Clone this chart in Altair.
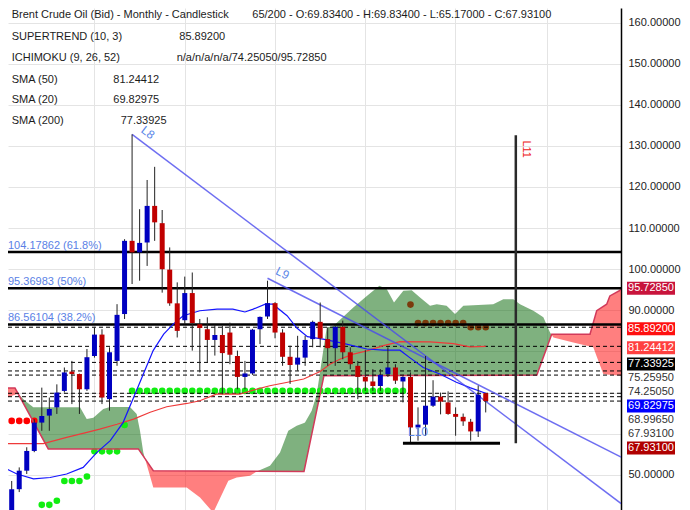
import altair as alt
import pandas as pd
import numpy as np

# ---------------- data ----------------
candle_idx = list(range(64))
opens = [39.5, 46.5, 51.0, 55.8, 62.7, 64.4, 66.4, 70.4, 75.1, 74.5,
         70.8, 78.9, 84.1, 68.4, 77.7, 89.1, 106.9, 104.1, 106.5, 115.4,
         111.2, 99.9, 91.7, 87.6, 94.2, 86.6, 85.4, 82.8, 84.0, 84.6,
         78.9, 73.8, 74.65, 85.4, 88.5, 91.75, 84.6, 78.7, 76.8, 78.5,
         83.0, 87.2, 83.0, 80.8, 86.0, 79.8, 76.5, 73.8, 72.7, 71.6,
         74.5, 76.1, 72.7, 73.8, 61.5, 62.2, 66.8, 69.0, 67.6, 64.8,
         64.1, 62.9, 60.55, 69.834]
highs = [48.5, 51.8, 56.7, 63.5, 71.2, 68.8, 72.0, 76.1, 77.7, 74.6,
         80.6, 85.8, 85.4, 81.0, 91.5, 107.3, 132.8, 114.6, 121.7, 124.9,
         114.4, 105.3, 96.8, 98.2, 99.2, 87.9, 88.3, 86.5, 86.2, 87.0,
         80.2, 77.7, 85.5, 88.5, 97.2, 92.0, 85.4, 81.4, 83.8, 83.8,
         87.5, 91.9, 85.8, 86.2, 87.5, 81.0, 77.7, 80.3, 75.7, 75.7,
         81.0, 76.9, 74.0, 74.9, 66.4, 78.9, 73.0, 70.0, 70.3, 66.4,
         64.9, 63.6, 71.7, 69.834]
lows = [38.5, 45.8, 50.2, 55.5, 60.7, 60.7, 64.8, 70.0, 67.2, 64.8,
        70.4, 78.5, 67.2, 65.6, 76.5, 87.9, 96.4, 97.2, 100.8, 106.9,
        94.3, 91.1, 83.4, 86.6, 80.2, 74.9, 77.3, 79.0, 69.6, 76.9,
        70.8, 70.8, 74.3, 81.8, 87.9, 83.2, 76.5, 72.1, 75.3, 76.5,
        81.0, 81.0, 76.5, 76.5, 78.1, 75.7, 68.4, 70.4, 70.4, 70.4,
        73.8, 72.1, 67.6, 57.9, 58.3, 59.5, 66.5, 64.7, 64.6, 59.5,
        61.9, 58.3, 59.2, 65.17]
closes = [46.5, 51.0, 55.8, 62.7, 64.3, 66.0, 70.0, 74.9, 74.5, 70.8,
          78.6, 84.1, 68.8, 79.8, 88.9, 106.9, 104.1, 106.4, 115.4, 111.4,
          100.0, 91.7, 85.0, 94.2, 86.9, 85.7, 82.8, 84.0, 79.6, 79.2,
          73.8, 74.65, 85.3, 88.4, 91.75, 84.6, 78.7, 76.7, 78.5, 82.8,
          87.2, 83.2, 80.8, 86.0, 79.8, 76.9, 73.8, 72.7, 71.6, 74.3,
          76.1, 72.9, 73.8, 61.5, 62.2, 66.8, 69.0, 67.8, 64.8, 64.1,
          63.0, 60.55, 69.5, 67.931]

# supertrend dots (index, value, side)
st_idx = list(range(64))
st_val = ([63.1] * 4 + [42.7, 42.7, 43.7] + [48.5, 48.5, 48.5, 49.6] + [55.7] * 4 + [62.1]
          + [70.4] * 37 + [91.4] + [86.9] * 7 + [85.892] * 3)
st_side = ["down"] * 4 + ["up"] * 49 + ["bear"] * 11

# SMA lines
sma20_idx = [-1.1, 0.7, 2.9, 5.1, 7.3, 9.5, 11.3, 13.1, 14.8, 16.2, 17.5, 18.8, 20.2, 21.5,
             22.8, 25.0, 27.3, 29.4, 31.0, 32.1, 33.7, 34.7, 36.6, 37.9, 39.3, 41.4, 44.5,
             47.2, 49.4, 51.6, 52.9, 54.7, 56.9, 59.1, 60.9, 63.0]
sma20_val = [51.8, 50.2, 49.0, 49.35, 50.2, 51.8, 55.4, 58.3, 62.7, 68.8, 74.5, 80.2, 84.2, 86.7,
             88.7, 89.9, 90.3, 90.3, 89.6, 90.3, 91.5, 91.5, 88.7, 85.7, 83.6, 83.0, 81.8,
             80.6, 80.3, 80.3, 78.5, 76.1, 74.5, 72.5, 71.2, 69.82975]
sma50_idx = [-1.1, 4.2, 7.3, 10.0, 11.7, 14.0, 16.2, 18.4, 20.6, 23.3, 25.0, 27.2, 30.3, 32.1,
             34.3, 36.5, 38.8, 41.0, 42.3, 43.6, 45.4, 47.2, 49.4, 51.6, 55.6, 58.7, 60.9, 63.0]
sma50_val = [57.6, 57.6, 59.1, 60.3, 61.1, 62.3, 63.55, 65.2, 66.55, 67.35, 68.0, 69.6, 69.6, 70.6,
             71.65, 72.45, 73.3, 75.1, 76.9, 78.1, 79.35, 80.15, 81.4, 82.4, 82.35, 81.9, 81.1, 81.24412]

# Ichimoku spans
spanA_idx = [-1.12, 0.84, 1.77, 2.87, 9.08, 9.97, 10.85, 12.17, 13.06, 15.72, 16.61, 17.05, 17.49,
             18.82, 23.26, 25.03, 26.79, 28.79, 29.9, 31.67, 32.56, 34.33, 35.66, 36.76, 37.88,
             38.98, 39.87, 40.54, 41.2, 41.87, 42.74, 45.4, 47.2, 48.86, 49.84, 50.81, 52.05,
             53.16, 54.27, 55.6, 56.49, 57.8, 58.92, 60.02, 64.0, 65.34, 66.67, 67.56, 69.33,
             70.66, 71.55, 72.0, 74.64, 77.3, 78.63, 81.0]
spanA_val = [68.5, 69.7, 68.0, 66.4, 66.4, 63.55, 63.9, 66.0, 66.5, 66.5, 64.8, 60.7, 55.4,
             46.9, 46.9, 44.5, 40.8, 48.55, 49.35, 49.75, 50.8, 52.2, 55.4, 60.7, 61.9,
             62.7, 65.6, 69.6, 77.7, 85.8, 86.2, 90.7, 93.5, 96.0, 95.2, 91.9, 94.75,
             94.9, 93.1, 91.1, 91.5, 91.1, 89.1, 91.1, 91.5, 92.7, 92.7, 91.5, 89.9,
             88.3, 84.6, 83.4, 82.2, 81.0, 74.5, 74.1]
spanB_idx = [-1.12, 0.44, 4.86, 16.83, 18.82, 38.85, 41.5, 69.8, 71.77, 76.86, 77.75, 79.08, 79.5, 81.0]
spanB_val = [71.1, 71.1, 56.3, 56.3, 50.98, 50.8, 74.1, 74.25, 84.2, 84.2, 89.9, 91.5, 93.5, 95.0]

# Fibonacci levels
fib_levels = [104.17862, 95.36983, 86.56104]
fib_labels = ["104.17862 (61.8%)", "95.36983 (50%)", "86.56104 (38.2%)"]

# dashed price lines
dash_levels = [85.892, 81.24412, 77.33925, 75.2595, 74.2505, 69.82975, 68.9965, 67.931]

# right side price tags
tag_values = [95.7285, 85.892, 81.24412, 77.33925, 75.2595, 74.2505, 69.82975, 68.9965, 67.931, 67.931]
tag_fill = ["#c8143c", "#ff1010", "#ff4040", "#000000", "", "", "#0000ff", "", "", "#b00000"]

# trend lines
trend_names = ["L8", "L8", "L9", "L9"]
trend_idx = [16, 81.0, 34, 81.0]
trend_val = [132.8, 43.0, 97.8, 54.3]
l10_span = [52, 64.9]
l10_level = 57.7
l11_idx = 67
l11_range = [57.7, 132.6]

header_left = ["Brent Crude Oil (Bid) - Monthly - Candlestick", "SUPERTREND (10, 3)",
               "ICHIMOKU (9, 26, 52)", "SMA (50)", "SMA (20)", "SMA (200)"]
header_right = ["65/200 - O:69.83400 - H:69.83400 - L:65.17000 - C:67.93100", "85.89200",
                "n/a/n/a/n/a/74.25050/95.72850", "81.24412", "69.82975", "77.33925"]

y_ticks = list(range(50, 161, 10))
x_grid = [10.9, 23.0, 35.0, 46.9, 58.9, 71.1]

# ---------------- scales & axes ----------------
W, H = 613, 502
X0, X1 = -0.492, 80.98
Y0, Y1 = 41.44, 163.53
ppu = H / (Y1 - Y0)
FONT = "Liberation Sans"

xs = alt.Scale(domain=[X0, X1], nice=False, zero=False, padding=0)
ys = alt.Scale(domain=[Y0, Y1], nice=False, zero=False, padding=0)
x_axis = alt.Axis(values=x_grid, grid=True, gridColor="#e4e4e4", labels=False, ticks=False,
                  domain=False, title=None)
y_axis = alt.Axis(orient="right", values=y_ticks, grid=True, gridColor="#e4e4e4", ticks=False,
                  domain=True, domainColor="#000000", domainWidth=1.5, labelPadding=7,
                  labelFont=FONT, labelFontSize=11, labelColor="#222222", title=None,
                  labelExpr="(datum.value >= 60 && datum.value <= 80) ? '' : format(datum.value, '.5f')")


def X(f):
    return alt.X(f, type="quantitative", scale=xs, axis=x_axis)


def Y(f):
    return alt.Y(f, type="quantitative", scale=ys, axis=y_axis)


def Y2(f):
    return alt.Y2(f)


# ---------------- frames ----------------
cdf = pd.DataFrame({"i": candle_idx, "o": opens, "h": highs, "l": lows, "c": closes})
cdf["col"] = np.where(cdf["c"] >= cdf["o"], "#0000c0", "#c00000")

st_colors = {"down": "#ff0000", "up": "#11ee11", "bear": "#7b3a0c"}
sdf = pd.DataFrame({"i": st_idx, "v": st_val, "side": st_side})
sdf["col"] = sdf["side"].map(st_colors)

# ichimoku cloud on a common grid
grid = sorted(set(spanA_idx) | set(spanB_idx))
a = np.interp(grid, spanA_idx, spanA_val)
b = np.interp(grid, spanB_idx, spanB_val)
gx, ga, gb = [grid[0]], [a[0]], [b[0]]
for k in range(1, len(grid)):
    d0, d1 = a[k - 1] - b[k - 1], a[k] - b[k]
    if d0 * d1 < 0:
        t = d0 / (d0 - d1)
        xc = grid[k - 1] + t * (grid[k] - grid[k - 1])
        yc = a[k - 1] + t * (a[k] - a[k - 1])
        gx.append(xc); ga.append(yc); gb.append(yc)
    gx.append(grid[k]); ga.append(a[k]); gb.append(b[k])
ga, gb = np.array(ga), np.array(gb)
cloud = pd.DataFrame({"i": gx, "b": gb,
                      "g": np.where(ga >= gb, ga, gb),
                      "r": np.where(ga < gb, ga, gb)})
bdf = pd.DataFrame({"i": spanB_idx, "v": spanB_val})

s20 = pd.DataFrame({"i": sma20_idx, "v": sma20_val})
s50 = pd.DataFrame({"i": sma50_idx, "v": sma50_val})
tdf = pd.DataFrame({"name": trend_names, "i": trend_idx, "v": trend_val})
fdf = pd.DataFrame({"v": fib_levels, "t": fib_labels})
ddf = pd.DataFrame({"v": dash_levels})

# right tag layout (push labels down to avoid overlap)
order = sorted(range(len(tag_values)), key=lambda k: -tag_values[k])
pos = []
last = -1e9
for k in order:
    p = (Y1 - tag_values[k]) * ppu + 1.5
    p = max(p, last + 14)
    pos.append(p)
    last = p
tags = pd.DataFrame({
    "label": [f"{tag_values[k]:.5f}" for k in order],
    "fill": [tag_fill[k] for k in order],
    "pos": [Y1 - p / ppu for p in pos],
    "top": [Y1 - (p - 6.5) / ppu for p in pos],
    "bot": [Y1 - (p + 6.5) / ppu for p in pos],
})
tags["tcol"] = np.where(tags["fill"] == "", "#333333", "#ffffff")
badges = tags[tags["fill"] != ""]

one = pd.DataFrame({"k": [0]})

# ---------------- layers ----------------
layers = []
layers.append(alt.Chart(cloud).mark_area(color="#006400", opacity=0.5, clip=True).encode(
    x=X("i"), y=Y("g"), y2=Y2("b")))
layers.append(alt.Chart(cloud).mark_area(color="#ff0000", opacity=0.5, clip=True).encode(
    x=X("i"), y=Y("r"), y2=Y2("b")))
layers.append(alt.Chart(sdf).mark_circle(size=44, opacity=1, clip=True).encode(
    x=X("i"), y=Y("v"), color=alt.Color("col:N", scale=None)))
layers.append(alt.Chart(bdf).mark_line(color="#d23a5a", strokeWidth=1.5, clip=True).encode(
    x=X("i"), y=Y("v")))
layers.append(alt.Chart(fdf).mark_rule(color="#000000", strokeWidth=2.5).encode(y=Y("v")))
layers.append(alt.Chart(ddf).mark_rule(color="#000000", strokeWidth=1, strokeDash=[4, 3]).encode(y=Y("v")))
layers.append(alt.Chart(s50).mark_line(color="#ee3a3a", strokeWidth=1.2, clip=True).encode(
    x=X("i"), y=Y("v")))
layers.append(alt.Chart(s20).mark_line(color="#1515ff", strokeWidth=1.2, clip=True).encode(
    x=X("i"), y=Y("v")))
layers.append(alt.Chart(tdf).mark_line(color="#4a4aee", strokeWidth=1.5, opacity=0.8, clip=True).encode(
    x=X("i"), y=Y("v"), detail="name:N"))
layers.append(alt.Chart(cdf).mark_rule(color="#222222", strokeWidth=1, clip=True).encode(
    x=X("i"), y=Y("l"), y2=Y2("h")))
layers.append(alt.Chart(cdf).mark_bar(size=5, orient="vertical", clip=True).encode(
    x=X("i"), y=Y("o"), y2=Y2("c"), color=alt.Color("col:N", scale=None)))

l10 = pd.DataFrame({"i": [l10_span[0]], "i2": [l10_span[1]], "v": [l10_level]})
layers.append(alt.Chart(l10).mark_rule(color="#000000", strokeWidth=3).encode(
    x=X("i"), x2=alt.X2("i2"), y=Y("v")))
l11 = pd.DataFrame({"i": [l11_idx], "v1": [l11_range[0]], "v2": [l11_range[1]]})
layers.append(alt.Chart(l11).mark_rule(color="#2a2a2a", strokeWidth=2.5).encode(
    x=X("i"), y=Y("v1"), y2=Y2("v2")))

# fib labels
layers.append(alt.Chart(fdf).mark_text(align="left", baseline="alphabetic", dy=-3, font=FONT,
                                       fontSize=11, color="#5a7fe6").encode(
    x=alt.value(0), y=Y("v"), text="t:N"))

# trend line labels
lab = pd.DataFrame({"i": [16, 34, l10_span[0], l11_idx],
                    "v": [132.8, 97.8, l10_level, l11_range[1]],
                    "t": ["L8", "L9", "L10", "L11"]})
lcol = "#5a86e8"
layers.append(alt.Chart(lab[lab.t == "L8"]).mark_text(angle=37, dx=11.6, dy=-11, align="center",
                                                      baseline="middle", font=FONT, fontSize=12,
                                                      color=lcol).encode(x=X("i"), y=Y("v"), text="t:N"))
layers.append(alt.Chart(lab[lab.t == "L9"]).mark_text(angle=26.5, dx=11.2, dy=-11.2, align="center",
                                                      baseline="middle", font=FONT, fontSize=12,
                                                      color=lcol).encode(x=X("i"), y=Y("v"), text="t:N"))
layers.append(alt.Chart(lab[lab.t == "L10"]).mark_text(dx=5, dy=-7.5, align="left",
                                                       baseline="alphabetic", font=FONT, fontSize=12,
                                                       color=lcol).encode(x=X("i"), y=Y("v"), text="t:N"))
layers.append(alt.Chart(lab[lab.t == "L11"]).mark_text(angle=90, dx=14, dy=-10.3, align="center",
                                                       baseline="middle", font=FONT, fontSize=11,
                                                       color="#ee2020").encode(x=X("i"), y=Y("v"), text="t:N"))

# right side tags
layers.append(alt.Chart(badges).mark_rect().encode(
    x=alt.value(619), x2=alt.value(667), y=Y("top"), y2=Y2("bot"),
    color=alt.Color("fill:N", scale=None)))
layers.append(alt.Chart(tags).mark_text(align="center", baseline="middle", font=FONT, fontSize=11).encode(
    x=alt.value(643), y=Y("pos"), text="label:N", color=alt.Color("tcol:N", scale=None)))

# header text
row_y = [7, 28.7, 50.3, 71.7, 92, 112.7]
right_x = [244.3, 171.3, 168.7, 105.3, 105.3, 112.7]
for k in range(6):
    layers.append(alt.Chart(one).mark_text(align="left", baseline="middle", font=FONT, fontSize=11,
                                           color="#1c1c1c").encode(
        x=alt.value(3.7), y=alt.value(row_y[k]), text=alt.value(header_left[k])))
    layers.append(alt.Chart(one).mark_text(align="left", baseline="middle", font=FONT, fontSize=11,
                                           color="#1c1c1c").encode(
        x=alt.value(right_x[k]), y=alt.value(row_y[k]), text=alt.value(header_right[k])))

chart = alt.layer(*layers).properties(
    width=W, height=H,
    autosize=alt.AutoSizeParams(type="none"),
    padding={"left": 0, "top": 0, "right": 61, "bottom": 0},
).configure_view(strokeWidth=0)
chart.save("out.html", embed_options={"renderer": "svg", "actions": False})
